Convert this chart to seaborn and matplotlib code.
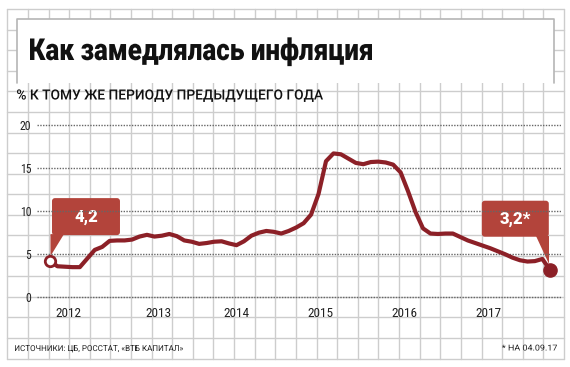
import numpy as np
import pandas as pd
import seaborn as sns
import matplotlib
matplotlib.use("Agg")
from matplotlib import pyplot as plt
from matplotlib.patches import FancyBboxPatch, Polygon, PathPatch
from matplotlib.textpath import TextPath
from matplotlib.font_manager import FontProperties
from matplotlib.transforms import Affine2D

# CPI, % year on year, monthly
cpi_2012 = [4.2, 3.6, 3.55, 3.5, 3.5, 4.5, 5.5, 5.85, 6.55, 6.6, 6.6, 6.7]
cpi_2013 = [7.05, 7.25, 7.05, 7.15, 7.35, 7.1, 6.6, 6.45, 6.2, 6.3, 6.45, 6.5]
cpi_2014 = [6.25, 6.05, 6.5, 7.15, 7.5, 7.7, 7.6, 7.4, 7.7, 8.1, 8.6, 9.6]
cpi_2015 = [12.0, 15.8, 16.7, 16.6, 16.1, 15.6, 15.45, 15.7, 15.75, 15.65, 15.4, 14.5]
cpi_2016 = [12.3, 9.9, 8.0, 7.4, 7.35, 7.4, 7.4, 7.0, 6.6, 6.3, 6.0, 5.7]
cpi_2017 = [5.35, 5.0, 4.6, 4.3, 4.15, 4.2, 4.45, 3.2]

years = ["2012", "2013", "2014", "2015", "2016", "2017"]
year_label_pos = [2.5, 14.5, 25, 36.3, 47.5, 58.8]
y_ticks = [0, 5, 10, 15, 20]
first_label = "4,2"
last_label = "3,2*"

values = cpi_2012 + cpi_2013 + cpi_2014 + cpi_2015 + cpi_2016 + cpi_2017
df = pd.DataFrame({"month": np.arange(len(values)), "cpi": values})

LINE = "#8c2027"
BOX = "#b3443b"
PAPER = "#cdcdcd"

sns.set_style("white")
plt.rcParams["font.family"] = ["Roboto Condensed", "Liberation Sans Narrow", "Roboto", "DejaVu Sans"]

W, H = 570, 367
fig = plt.figure(figsize=(W / 100, H / 100), dpi=100)

# background "squared paper", pixel coordinates (y down)
bg = fig.add_axes([0, 0, 1, 1], zorder=0)
bg.set_xlim(0, W)
bg.set_ylim(H, 0)
bg.axis("off")
for gx in np.linspace(7.3, 564, 28):
    bg.plot([gx, gx], [9.3, 358.5], color=PAPER, lw=1.0, zorder=1)
for gy in np.linspace(9.3, 358.5, 18):
    bg.plot([7.3, 564], [gy, gy], color=PAPER, lw=1.0, zorder=1)


def narrow_text(s, x, baseline, cap_h, width, weight="normal", color="#111111", align="left"):
    # text drawn as a path, squeezed to the width of the condensed original font
    fp = FontProperties(family=["Roboto", "DejaVu Sans"], weight=weight)
    size = cap_h / 0.711
    tp = TextPath((0, 0), s, size=size, prop=fp)
    ext = tp.get_extents()
    sx = width / ext.width
    x0 = x - ext.x0 * sx if align == "left" else x - ext.x1 * sx
    tr = Affine2D().scale(sx, -1).translate(x0, baseline)
    bg.add_patch(PathPatch(tr.transform_path(tp), facecolor=color, edgecolor="none", zorder=4))


# title box
bg.add_patch(plt.Rectangle((17, 19), 537, 64, facecolor="white", edgecolor="none", zorder=2))
bg.plot([17, 17, 554, 554], [83, 19, 19, 83], color="#b5b5b5", lw=1.2, zorder=3)
narrow_text("Как замедлялась инфляция", 30, 60, 21.5, 342, weight="black")
narrow_text("% К ТОМУ ЖЕ ПЕРИОДУ ПРЕДЫДУЩЕГО ГОДА", 17, 99.5, 10, 306, weight="medium")
narrow_text("ИСТОЧНИКИ: ЦБ, РОССТАТ, «ВТБ КАПИТАЛ»", 15, 351, 5.8, 168, color="#222222")
narrow_text("* НА 04.09.17", 557, 350.5, 5.8, 55, color="#222222", align="right")

# main chart
ax = fig.add_axes([37 / W, 1 - 305.9 / H, (561 - 37) / W, (305.9 - 116.4) / H], zorder=1)
ax.set_facecolor("none")
sns.lineplot(data=df, x="month", y="cpi", ax=ax, color=LINE, lw=3.0, zorder=5)
ax.plot(df["month"].iloc[0], df["cpi"].iloc[0], "o", ms=7.5, mfc="white", mec=LINE, mew=2, zorder=6)
ax.plot(df["month"].iloc[-1], df["cpi"].iloc[-1], "o", ms=9.5, color=LINE, zorder=6)

ax.set_xlim(-1.74, 68.5)
ax.set_ylim(-1, 21)
ax.set_yticks(y_ticks)
ax.set_yticklabels([str(t) for t in y_ticks], fontsize=8.5, color="#222222")
ax.set_xticks(year_label_pos)
ax.set_xticklabels(years, fontsize=9.5, color="#222222")
ax.tick_params(axis="both", length=0)
ax.tick_params(axis="y", pad=4)
ax.tick_params(axis="x", pad=0.5)
ax.yaxis.grid(True, color="#666666", lw=1.0, linestyle=(0, (1, 1)))
ax.xaxis.grid(False)
ax.set_xlabel("")
ax.set_ylabel("")
for s in ax.spines.values():
    s.set_visible(False)


def callout(x, y, text, box, pointer):
    # box: (dx0, dy0, dx1, dy1) pixel offsets from the point, y downwards
    px, py = bg.transData.inverted().transform(ax.transData.transform((x, y)))
    dx0, dy0, dx1, dy1 = box
    bg.add_patch(FancyBboxPatch((px + dx0, py + dy0), dx1 - dx0, dy1 - dy0,
                                boxstyle="round,pad=0,rounding_size=3",
                                facecolor=BOX, edgecolor="none", zorder=5))
    bg.add_patch(Polygon([(px + a, py + b) for a, b in pointer], closed=True,
                         facecolor=BOX, edgecolor="none", zorder=5))
    bg.text(px + (dx0 + dx1) / 2, py + (dy0 + dy1) / 2, text, color="white",
            fontsize=12, fontweight="black", family=["Roboto", "DejaVu Sans"],
            ha="center", va="center", zorder=6)


callout(df["month"].iloc[0], df["cpi"].iloc[0], first_label,
        (2, -63, 70, -26), [(1.5, -27), (14, -27), (0.5, -5), (0.5, -27)])
callout(df["month"].iloc[-1], df["cpi"].iloc[-1], last_label,
        (-68, -69, -1, -33), [(-14, -34), (-1, -34), (-1, -6)])

fig.savefig("out.png", dpi=100)
